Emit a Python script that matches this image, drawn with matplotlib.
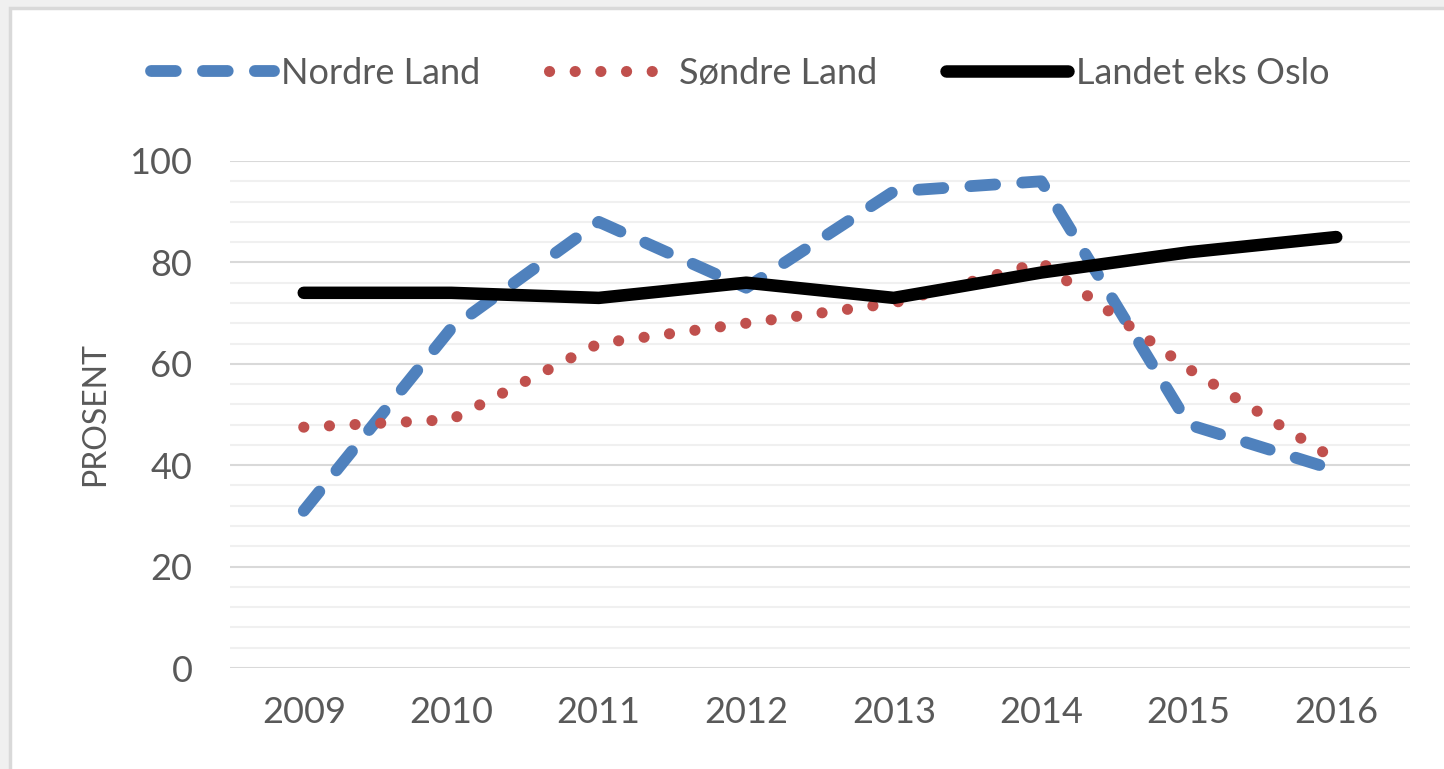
import matplotlib.pyplot as plt
from matplotlib.patches import Rectangle
from matplotlib.ticker import MultipleLocator

plt.rcParams['font.family'] = ['Lato', 'DejaVu Sans']

years = ['2009', '2010', '2011', '2012', '2013', '2014', '2015', '2016']
nordre_land = [31, 67, 88, 75, 94, 96, 48, 39]
sondre_land = [47.5, 49, 64, 68, 72, 80, 59, 41]
landet_eks_oslo = [74, 74, 73, 76, 73, 78, 82, 85]

txt = '#595959'

fig = plt.figure(figsize=(14.44, 7.69), dpi=100, facecolor='#f0f0f0')
# chart frame
fig.patches.append(Rectangle((10 / 1444, -0.05), 1.1, 1 - 8 / 769 + 0.05,
                             transform=fig.transFigure, facecolor='white',
                             edgecolor='#d9d9d9', lw=2.5, zorder=-5))

ax = fig.add_axes([230 / 1444, 1 - 668 / 769, 1180 / 1444, 507 / 769])
ax.set_facecolor('none')
x = range(len(years))

l1, = ax.plot(x, nordre_land, color='#4F81BD', lw=8.5, solid_capstyle='round',
              dash_capstyle='round', dash_joinstyle='round', label='Nordre Land')
l1.set_dashes((2.1, 2.3))
l2, = ax.plot(x, sondre_land, color='#C0504D', lw=8, dash_capstyle='round',
              label='Søndre Land')
l2.set_dashes((0.01, 2.3))
l3, = ax.plot(x, landet_eks_oslo, color='black', lw=9, solid_capstyle='round',
              solid_joinstyle='round', label='Landet eks Oslo')

ax.set_xlim(-0.5, len(years) - 0.5)
ax.set_ylim(0, 100)
ax.yaxis.set_major_locator(MultipleLocator(20))
ax.yaxis.set_minor_locator(MultipleLocator(4))
ax.grid(which='major', axis='y', color='#d9d9d9', lw=1.5, zorder=0)
ax.grid(which='minor', axis='y', color='#f0f0f0', lw=1.5, zorder=0)
ax.set_axisbelow(True)
for s in ax.spines.values():
    s.set_visible(False)

ax.set_xticks(list(x))
ax.set_xticklabels(years)
ax.tick_params(axis='both', which='both', length=0, labelsize=26, labelcolor=txt)
ax.tick_params(axis='x', pad=20)
ax.tick_params(axis='y', pad=27)
ax.set_ylabel('PROSENT', fontsize=23, color=txt, labelpad=14)

fig.legend(handles=[l1, l2, l3], loc='center', bbox_to_anchor=(0.5125, 0.905),
           ncol=3, frameon=False, fontsize=26, labelcolor=txt,
           handlelength=3.4, handletextpad=0.2, columnspacing=1.9)

fig.savefig('out.png', dpi=100, facecolor=fig.get_facecolor())
